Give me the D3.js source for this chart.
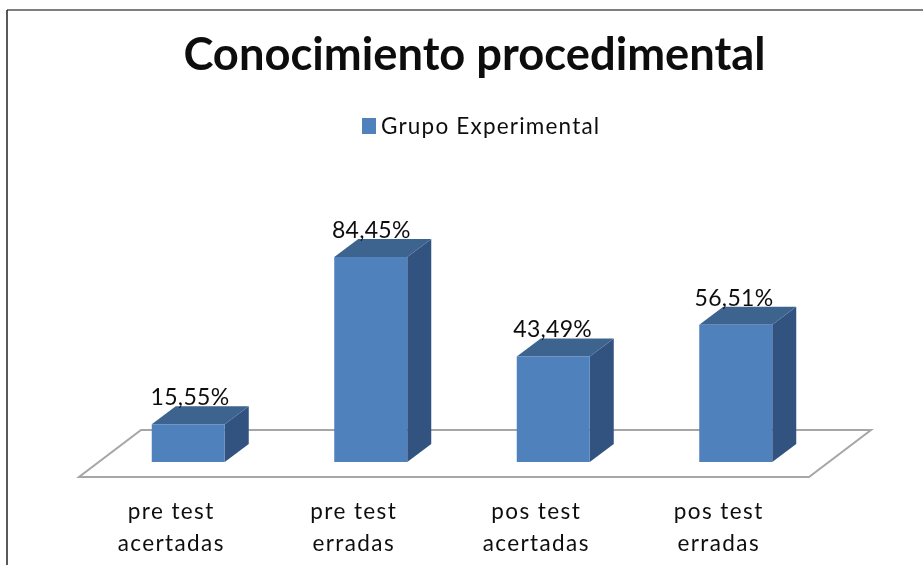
<!DOCTYPE html>
<html>
<head>
<meta charset="utf-8">
<script src="https://cdn.jsdelivr.net/npm/d3@7"></script>
<style>
  html, body { margin: 0; padding: 0; background: #fff; }
  svg { display: block; }
  text { font-family: Lato, "Open Sans", sans-serif; fill: #111; }
</style>
</head>
<body>
<svg width="923" height="565"></svg>
<script>
var categories = ["pre test acertadas", "pre test erradas", "pos test acertadas", "pos test erradas"];
var labelLines = [["pre test", "acertadas"], ["pre test", "erradas"], ["pos test", "acertadas"], ["pos test", "erradas"]];
var seriesName = "Grupo Experimental";
var values = [15.55, 84.45, 43.49, 56.51];
var chartTitle = "Conocimiento procedimental";

var svg = d3.select("svg"),
    width = +svg.attr("width"),
    height = +svg.attr("height");

// the picture is an enlarged screenshot, a little soft
var defs = svg.append("defs");
defs.append("filter").attr("id", "soft")
    .append("feGaussianBlur").attr("stdDeviation", 0.5);

var root = svg.append("g").attr("filter", "url(#soft)");

// frame, only top and left are visible
root.append("line").attr("x1", 7).attr("y1", 10).attr("x2", width).attr("y2", 10)
    .attr("stroke", "#555").attr("stroke-width", 1.5);
root.append("line").attr("x1", 7).attr("y1", 10).attr("x2", 7).attr("y2", height)
    .attr("stroke", "#222").attr("stroke-width", 1.5);

var floorY = 477, baseY = 462;
var depthX = 24, depthY = 18;   // 3d depth of one bar
var floorX = 62, floorDY = 47;  // slant of the floor
var barShift = 18;

var x = d3.scaleBand().domain(categories).range([79, 809])
    .paddingInner(0.6).paddingOuter(0.3);
var y = d3.scaleLinear().domain([0, 100]).range([baseY, baseY - 242.7]);
// value labels sit a bit tighter than the bars
var labelX = d3.scalePoint().domain(categories).range([190, 734]);

// floor
var left = x.range()[0], right = x.range()[1];
root.append("path")
    .attr("d", d3.line()([[left, floorY], [right, floorY],
        [right + floorX, floorY - floorDY], [left + floorX, floorY - floorDY]]) + "Z")
    .attr("fill", "#fff")
    .attr("stroke", "#a6a6a6")
    .attr("stroke-width", 2);

// bars
var bars = root.selectAll("g.bar")
    .data(categories)
    .enter().append("g")
    .attr("class", "bar")
    .attr("transform", "translate(" + barShift + ",0)");

bars.append("path")
    .attr("fill", "#325380")
    .attr("d", function (d, i) {
        var x1 = x(d) + x.bandwidth(), t = y(values[i]);
        return d3.line()([[x1, t], [x1 + depthX, t - depthY], [x1 + depthX, baseY - depthY], [x1, baseY]]) + "Z";
    });
bars.append("path")
    .attr("fill", "#3e638f")
    .attr("d", function (d, i) {
        var x0 = x(d), x1 = x0 + x.bandwidth(), t = y(values[i]);
        return d3.line()([[x0, t], [x1, t], [x1 + depthX, t - depthY], [x0 + depthX, t - depthY]]) + "Z";
    });
bars.append("rect")
    .attr("fill", "#4f81bd")
    .attr("x", function (d) { return x(d); })
    .attr("y", function (d, i) { return y(values[i]); })
    .attr("width", x.bandwidth())
    .attr("height", function (d, i) { return baseY - y(values[i]); });

// value labels, comma decimals
var fmt = d3.formatLocale({ decimal: ",", thousands: ".", grouping: [3], currency: ["", ""] }).format(".2f");
root.selectAll("text.value")
    .data(categories)
    .enter().append("text")
    .attr("class", "value")
    .attr("x", function (d) { return labelX(d); })
    .attr("y", function (d, i) { return y(values[i]) - depthY - 1; })
    .attr("text-anchor", "middle")
    .attr("font-size", 23)
    .attr("letter-spacing", 0.3)
    .text(function (d, i) { return fmt(values[i]) + "%"; });

// category axis
var axis = root.append("g")
    .attr("transform", "translate(0," + floorY + ")")
    .call(d3.axisBottom(x).tickSize(0).tickFormat(""));
axis.select(".domain").remove();
axis.selectAll(".tick text").remove();
axis.selectAll(".tick").each(function (d, i) {
    var t = d3.select(this).append("text")
        .attr("text-anchor", "middle")
        .attr("font-size", 22.5)
        .attr("letter-spacing", 1.4);
    labelLines[i].forEach(function (line, j) {
        t.append("tspan").attr("x", 1).attr("y", 42 + j * 32).text(line);
    });
});

// title
root.append("text")
    .attr("x", 474.5).attr("y", 70)
    .attr("text-anchor", "middle")
    .attr("font-size", 45.3)
    .attr("font-weight", 700)
    .text(chartTitle);

// legend
root.append("rect")
    .attr("x", 362).attr("y", 118).attr("width", 14).attr("height", 16)
    .attr("fill", "#4f81bd");
root.append("text")
    .attr("x", 381).attr("y", 134)
    .attr("font-size", 22.5)
    .attr("letter-spacing", 1.2)
    .text(seriesName);
</script>
</body>
</html>
